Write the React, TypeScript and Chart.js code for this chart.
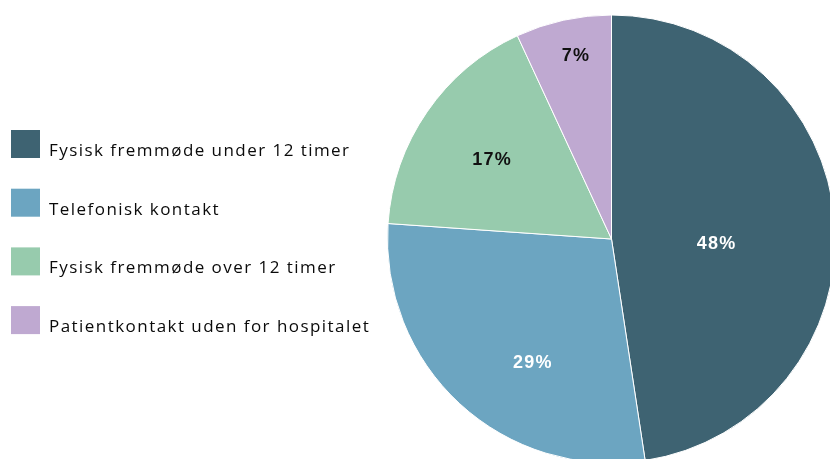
import React, { useEffect, useRef } from 'react';
import { Chart, registerables } from 'chart.js';

Chart.register(...registerables);

const categories = [
  'Fysisk fremmøde under 12 timer',
  'Telefonisk kontakt',
  'Fysisk fremmøde over 12 timer',
  'Patientkontakt uden for hospitalet',
];
const shares = [47.6, 28.5, 17.0, 6.9];
const sliceColors = ['#3e6372', '#6ca5c1', '#97cbad', '#bfa9d1'];
const valueLabelColors = ['#ffffff', '#ffffff', '#111111', '#111111'];
// placement of each value label: fraction along the arc, fraction of the radius
const labelPlacement = [
  { t: 0.541, r: 0.47 },
  { t: 0.4, r: 0.655 },
  { t: 0.485, r: 0.64 },
  { t: 0.556, r: 0.83 },
];

const CANVAS_W = 840;
const CANVAS_H = 470;

const valueLabelPlugin = {
  id: 'valueLabels',
  afterDatasetsDraw(chart: any) {
    const ctx = chart.ctx;
    const meta = chart.getDatasetMeta(0);
    ctx.save();
    ctx.font = 'bold 18px "Liberation Sans", Arial, sans-serif';
    try { (ctx as any).letterSpacing = '1.2px'; } catch (e) {}
    ctx.textAlign = 'center';
    ctx.textBaseline = 'middle';
    meta.data.forEach((arc: any, i: number) => {
      const p = arc.getProps(['x', 'y', 'startAngle', 'endAngle', 'outerRadius'], true);
      const pl = labelPlacement[i];
      const a = p.startAngle + pl.t * (p.endAngle - p.startAngle);
      const x = p.x + Math.cos(a) * p.outerRadius * pl.r;
      const y = p.y + Math.sin(a) * p.outerRadius * pl.r;
      ctx.fillStyle = valueLabelColors[i];
      ctx.fillText(Math.round(shares[i]) + '%', x, y);
    });
    ctx.restore();
  },
};

const sideLegendPlugin = {
  id: 'sideLegend',
  afterDraw(chart: any) {
    const ctx = chart.ctx;
    const labels = chart.data.labels as string[];
    const bg = chart.data.datasets[0].backgroundColor as string[];
    ctx.save();
    ctx.font = '17px "Open Sans", sans-serif';
    try { (ctx as any).letterSpacing = '1.45px'; } catch (e) {}
    ctx.textAlign = 'left';
    ctx.textBaseline = 'alphabetic';
    labels.forEach((lab, i) => {
      const top = 130 + i * 58.7;
      ctx.fillStyle = bg[i];
      ctx.fillRect(11, top, 29, 28);
      ctx.fillStyle = '#0a0a0a';
      ctx.fillText(lab, 49, top + 26);
    });
    ctx.restore();
  },
};

export default function App() {
  const ref = useRef<HTMLCanvasElement | null>(null);
  useEffect(() => {
    document.body.style.overflow = 'hidden';
    const canvas = ref.current;
    if (!canvas) return;
    const chart = new Chart(canvas, {
      type: 'pie',
      data: {
        labels: categories,
        datasets: [
          {
            data: shares,
            backgroundColor: sliceColors,
            borderColor: '#ffffff',
            borderWidth: 1,
            hoverOffset: 0,
          },
        ],
      },
      options: {
        responsive: false,
        animation: false,
        devicePixelRatio: 1,
        events: [],
        layout: { padding: { left: 387, right: 4, top: 14.5, bottom: 6.5 } },
        plugins: {
          legend: { display: false },
          tooltip: { enabled: false },
        },
      },
      plugins: [valueLabelPlugin, sideLegendPlugin],
    });
    return () => chart.destroy();
  }, []);
  return (
    <div style={{ position: 'fixed', left: 0, top: 0, width: CANVAS_W, height: CANVAS_H, background: '#ffffff' }}>
      <canvas ref={ref} width={CANVAS_W} height={CANVAS_H} style={{ width: CANVAS_W, height: CANVAS_H, display: 'block' }} />
    </div>
  );
}
